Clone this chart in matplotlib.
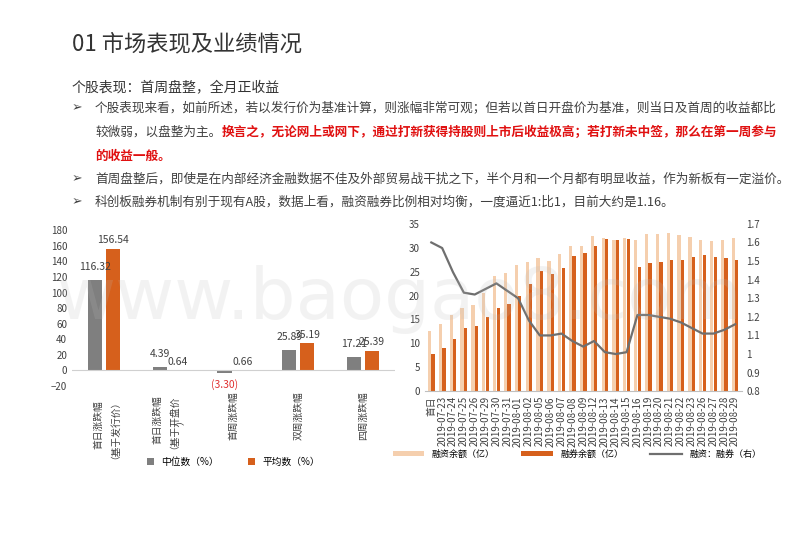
import matplotlib
matplotlib.use("Agg")
import matplotlib.pyplot as plt
import numpy as np

plt.rcParams["font.family"] = ["Noto Sans CJK SC", "DejaVu Sans"]

left_cats = ["首日涨跌幅\n（基于发行价）", "首日涨跌幅\n（基于开盘价\n）", "首周涨跌幅", "双周涨跌幅", "四周涨跌幅"]
median_vals = [116.32, 4.39, -3.30, 25.89, 17.21]
mean_vals = [156.54, 0.64, 0.66, 35.19, 25.39]
median_labels = ["116.32", "4.39", "(3.30)", "25.89", "17.21"]
mean_labels = ["156.54", "0.64", "0.66", "35.19", "25.39"]

dates = ["首日", "2019-07-23", "2019-07-24", "2019-07-25", "2019-07-26", "2019-07-29", "2019-07-30",
         "2019-07-31", "2019-08-01", "2019-08-02", "2019-08-05", "2019-08-06", "2019-08-07", "2019-08-08",
         "2019-08-09", "2019-08-12", "2019-08-13", "2019-08-14", "2019-08-15", "2019-08-16", "2019-08-19",
         "2019-08-20", "2019-08-21", "2019-08-22", "2019-08-23", "2019-08-26", "2019-08-27", "2019-08-28",
         "2019-08-29"]
financing = [12.5, 14, 16, 17.5, 18, 20.5, 24.2, 24.8, 26.5, 27, 27.8, 27.2, 28.8, 30.3, 30.3, 32.5, 32,
             31.7, 32, 31.7, 32.8, 32.9, 33.1, 32.7, 32.3, 31.6, 31.4, 31.6, 32]
securities = [7.8, 9, 11, 13.2, 13.7, 15.5, 17.5, 18.3, 20, 22.5, 25.2, 24.5, 25.8, 28.2, 29, 30.3, 31.8,
              31.7, 31.8, 26, 26.8, 27.1, 27.5, 27.5, 28, 28.4, 28, 27.8, 27.5]
ratio = [1.6, 1.57, 1.44, 1.33, 1.32, 1.35, 1.38, 1.34, 1.30, 1.18, 1.10, 1.10, 1.11, 1.07, 1.04, 1.07,
         1.01, 1.0, 1.01, 1.21, 1.21, 1.2, 1.19, 1.17, 1.14, 1.11, 1.11, 1.13, 1.16]

W, H = 800, 533
fig = plt.figure(figsize=(8, 5.33), dpi=100)
def px(x, y):
    return x / W, 1 - y / H

GREY = "#7f7f7f"
ORANGE = "#d6601c"
LIGHT = "#f5cfae"
TXT = "#404040"

fig.text(0.5, 1 - 300 / H, "www.baogao8.com", fontsize=52, color="#bbbbbb", alpha=0.18,
         ha="center", va="center", fontfamily="DejaVu Sans", zorder=0)

fig.text(*px(72, 44), "01 市场表现及业绩情况", fontsize=16, color="#333333", va="center")
fig.text(*px(72, 87), "个股表现：首周盘整，全月正收益", fontsize=10, color="#333333", va="center")
fs = 9.1
for yy in (108, 179, 202):
    fig.text(*px(72, yy), "➢", fontsize=fs, color=TXT, va="center", fontfamily="DejaVu Sans")
fig.text(*px(95, 108), "个股表现来看，如前所述，若以发行价为基准计算，则涨幅非常可观；但若以首日开盘价为基准，则当日及首周的收益都比", fontsize=fs, color=TXT, va="center")
fig.text(*px(95, 132), "较微弱，以盘整为主。", fontsize=fs, color=TXT, va="center")
fig.text(*px(222, 132), "换言之，无论网上或网下，通过打新获得持股则上市后收益极高；若打新未中签，那么在第一周参与", fontsize=fs, color="#e01010", va="center", fontweight="bold")
fig.text(*px(95, 156), "的收益一般。", fontsize=fs, color="#e01010", va="center", fontweight="bold")
fig.text(*px(95, 179), "首周盘整后，即使是在内部经济金融数据不佳及外部贸易战干扰之下，半个月和一个月都有明显收益，作为新板有一定溢价。", fontsize=fs, color=TXT, va="center")
fig.text(*px(95, 202), "科创板融券机制有别于现有A股，数据上看，融资融券比例相对均衡，一度逼近1:比1，目前大约是1.16。", fontsize=fs, color=TXT, va="center")

# left chart
ax1 = fig.add_axes([0.09, 0.276, 0.404, 0.292])
x = np.arange(len(left_cats))
w = 0.22
ax1.bar(x - 0.14, median_vals, w, color=GREY, label="中位数（%）")
ax1.bar(x + 0.14, mean_vals, w, color=ORANGE, label="平均数（%）")
for i in range(len(x)):
    if median_vals[i] < 0:
        ax1.text(x[i] - 0.14, -18, median_labels[i], ha="center", va="center", fontsize=7.5, color="#e03030")
    else:
        ax1.text(x[i] - 0.14, median_vals[i] + 10, median_labels[i], ha="center", va="bottom", fontsize=7.5, color=TXT)
    ax1.text(x[i] + 0.14, mean_vals[i] + 4, mean_labels[i], ha="center", va="bottom", fontsize=7.5, color=TXT)
ax1.set_ylim(-20, 180)
ax1.set_yticks(range(-20, 181, 20))
ax1.set_xlim(-0.5, 4.5)
ax1.set_xticks(x)
ax1.set_xticklabels(left_cats, rotation=90, fontsize=6.5, va="top")
ax1.tick_params(length=0, labelsize=7, colors=TXT)
for s in ["top", "right", "left", "bottom"]:
    ax1.spines[s].set_visible(False)
ax1.axhline(0, color="#d0d0d0", lw=0.8)
ax1.legend(loc="upper center", bbox_to_anchor=(0.5, -0.4), ncol=2, frameon=False, fontsize=7,
           handlelength=0.7, handleheight=0.7, columnspacing=3)

# right chart
ax2 = fig.add_axes([0.531, 0.266, 0.396, 0.314])
xr = np.arange(len(dates))
bw = 0.3
ax2.bar(xr - 0.16, financing, bw, color=LIGHT, label="融资余额（亿）")
ax2.bar(xr + 0.16, securities, bw, color=ORANGE, label="融券余额（亿）")
ax2.set_ylim(0, 35)
ax2.set_yticks(range(0, 36, 5))
ax2.set_xlim(-0.6, len(dates) - 0.4)
ax2.set_xticks(xr)
ax2.set_xticklabels(dates, rotation=90, fontsize=6.3)
ax2.tick_params(length=0, labelsize=7, colors=TXT)
ax2.spines["bottom"].set_color("#bfbfbf")
for s in ["top", "right", "left"]:
    ax2.spines[s].set_visible(False)
ax3 = ax2.twinx()
ax3.plot(xr, ratio, color="#6f6f6f", lw=1.6, label="融资：融券（右）")
ax3.set_ylim(0.8, 1.7)
ax3.set_yticks(np.round(np.arange(0.8, 1.71, 0.1), 1))
ax3.set_yticklabels(["0.8", "0.9", "1", "1.1", "1.2", "1.3", "1.4", "1.5", "1.6", "1.7"])
ax3.tick_params(length=0, labelsize=7, colors=TXT)
for s in ["top", "right", "left", "bottom"]:
    ax3.spines[s].set_visible(False)
h1, l1 = ax2.get_legend_handles_labels()
h2, l2 = ax3.get_legend_handles_labels()
ax2.legend(h1 + h2, l1 + l2, loc="upper center", bbox_to_anchor=(0.48, -0.3), ncol=3, frameon=False,
           fontsize=6.5, handlelength=3.5, handleheight=0.5, columnspacing=3)

fig.savefig("out.png", dpi=100)
